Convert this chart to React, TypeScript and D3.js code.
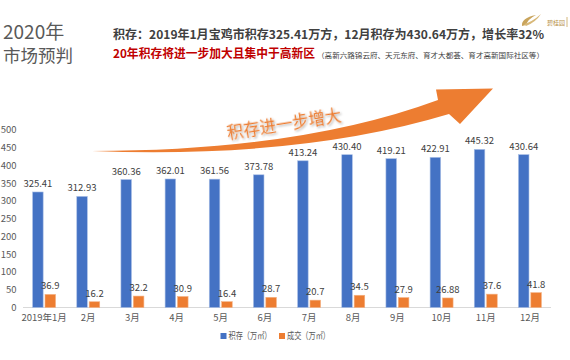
import { useRef, useEffect } from 'react';
import * as d3 from 'd3';

const months = ['2019年1月', '2月', '3月', '4月', '5月', '6月', '7月', '8月', '9月', '10月', '11月', '12月'];
const stockValues = [325.41, 312.93, 360.36, 362.01, 361.56, 373.78, 413.24, 430.40, 419.21, 422.91, 445.32, 430.64];
const dealValues = [36.9, 16.2, 32.2, 30.9, 16.4, 28.7, 20.7, 34.5, 27.9, 26.88, 37.6, 41.8];
const stockLabels = ['325.41', '312.93', '360.36', '362.01', '361.56', '373.78', '413.24', '430.40', '419.21', '422.91', '445.32', '430.64'];
const dealLabels = ['36.9', '16.2', '32.2', '30.9', '16.4', '28.7', '20.7', '34.5', '27.9', '26.88', '37.6', '41.8'];
const seriesNames = ['积存（万㎡）', '成交（万㎡）'];
const seriesColors = ['#4472C4', '#ED7D31'];
const yTicks = [0, 50, 100, 150, 200, 250, 300, 350, 400, 450, 500];

const FONT = '"Noto Sans CJK SC", "Noto Sans", sans-serif';

export default function App() {
  const svgRef = useRef<SVGSVGElement | null>(null);
  const width = 570;
  const height = 360;

  function renderChart() {
    const svg = d3.select(svgRef.current);
    svg.selectAll('*').remove();
    svg.attr('width', width).attr('height', height).style('font-family', FONT);

    const defs = svg.append('defs');
    const shadow = defs.append('filter').attr('id', 'txtShadow').attr('x', '-10%').attr('y', '-30%').attr('width', '130%').attr('height', '170%');
    shadow.append('feDropShadow').attr('dx', 1.2).attr('dy', 1.5).attr('stdDeviation', 0.9)
      .attr('flood-color', '#000').attr('flood-opacity', 0.35);

    // titles
    svg.append('text').text('2020年').attr('x', 3).attr('y', 38.5)
      .attr('font-size', 19).attr('fill', '#595959');
    svg.append('text').text('市场预判').attr('x', 3).attr('y', 62)
      .attr('font-size', 17.5).attr('fill', '#595959');

    svg.append('text').text('积存：2019年1月宝鸡市积存325.41万方，12月积存为430.64万方，增长率32%')
      .attr('x', 113).attr('y', 38.5).attr('font-size', 12).attr('font-weight', 'bold')
      .attr('fill', '#404040').attr('textLength', 431).attr('lengthAdjust', 'spacingAndGlyphs');
    svg.append('text').text('20年积存将进一步加大且集中于高新区')
      .attr('x', 113).attr('y', 58).attr('font-size', 12).attr('font-weight', 'bold')
      .attr('fill', '#C00000').attr('textLength', 202).attr('lengthAdjust', 'spacingAndGlyphs');
    svg.append('text').text('（高新六路锦云府、天元东府、育才大都荟、育才高新国际社区等）')
      .attr('x', 317).attr('y', 57.5).attr('font-size', 7).attr('fill', '#404040')
      .attr('textLength', 227).attr('lengthAdjust', 'spacingAndGlyphs');

    // logo
    const logo = svg.append('g');
    logo.append('path').attr('d', 'M522,26 Q521,18 536,15 Q528,19 526,25 Z').attr('fill', '#C9A45C');
    logo.append('path').attr('d', 'M524,24 Q532,22 541,14 Q536,22 526,26 Z').attr('fill', '#D8B878');
    logo.append('text').text('碧桂园').attr('x', 547).attr('y', 24.5).attr('font-size', 6)
      .attr('fill', '#B8924A');
    logo.append('line').attr('x1', 567).attr('x2', 567).attr('y1', 17).attr('y2', 27)
      .attr('stroke', '#C9A45C').attr('stroke-width', 0.8);

    // scales
    const x0 = d3.scaleBand().domain(months).range([22, 552]).paddingInner(0.48).paddingOuter(0.24);
    const x1 = d3.scaleBand().domain(['stock', 'deal']).range([0, x0.bandwidth()]).paddingInner(0.15);
    const y = d3.scaleLinear().domain([0, 500]).range([307.5, 130]);

    // y axis labels
    svg.append('g').selectAll('text').data(yTicks).join('text')
      .text((d) => d).attr('x', 16.5).attr('y', (d) => y(d) + 3.3)
      .attr('text-anchor', 'end').attr('font-size', 9.5).attr('fill', '#595959');

    // baseline
    svg.append('line').attr('x1', 23).attr('x2', 551).attr('y1', 307.5).attr('y2', 307.5)
      .attr('stroke', '#D9D9D9').attr('stroke-width', 1);

    const groups = svg.append('g').selectAll('g').data(months).join('g')
      .attr('transform', (d) => `translate(${x0(d)},0)`);

    groups.append('rect')
      .attr('x', x1('stock') as number).attr('width', x1.bandwidth())
      .attr('y', (d, i) => y(stockValues[i])).attr('height', (d, i) => y(0) - y(stockValues[i]))
      .attr('fill', seriesColors[0]).attr('stroke', '#A9BFE6').attr('stroke-width', 0.6);
    groups.append('rect')
      .attr('x', x1('deal') as number).attr('width', x1.bandwidth())
      .attr('y', (d, i) => y(dealValues[i])).attr('height', (d, i) => y(0) - y(dealValues[i]))
      .attr('fill', seriesColors[1]).attr('stroke', '#F4B183').attr('stroke-width', 0.6);

    groups.append('text').text((d, i) => stockLabels[i])
      .attr('x', (x1('stock') as number) + x1.bandwidth() / 2).attr('y', (d, i) => y(stockValues[i]) - 5)
      .attr('text-anchor', 'middle').attr('font-size', 9.5).attr('fill', '#404040');
    groups.append('text').text((d, i) => dealLabels[i])
      .attr('x', (x1('deal') as number) + x1.bandwidth() / 2).attr('y', (d, i) => y(dealValues[i]) - 5)
      .attr('text-anchor', 'middle').attr('font-size', 9.5).attr('fill', '#404040');

    // x labels
    groups.append('text').text((d) => d)
      .attr('x', x0.bandwidth() / 2).attr('y', 320.5)
      .attr('text-anchor', 'middle').attr('font-size', 9.5).attr('fill', '#595959');

    // legend
    const legendX = [220.5, 279];
    const legend = svg.append('g').selectAll('g').data(seriesNames).join('g')
      .attr('transform', (d, i) => `translate(${legendX[i]},336)`);
    legend.append('rect').attr('x', 0).attr('y', -3).attr('width', 6).attr('height', 6)
      .attr('fill', (d, i) => seriesColors[i]);
    legend.append('text').text((d) => d).attr('x', 8).attr('y', 3.3)
      .attr('font-size', 9.5).attr('fill', '#595959')
      .attr('textLength', 43).attr('lengthAdjust', 'spacingAndGlyphs');

    // big arrow
    svg.append('path')
      .attr('d', 'M92,151 Q300,151 438,100 L436,89.5 L493,88.5 L460,124 L449,114 Q300,159 92,151 Z')
      .attr('fill', '#ED7D31');

    svg.append('text').text('积存进一步增大')
      .attr('transform', 'translate(285,130) rotate(-9)')
      .attr('text-anchor', 'middle').attr('font-size', 16.5)
      .attr('fill', '#ED7D31').attr('filter', 'url(#txtShadow)');
  }

  useEffect(() => {
    renderChart();
  }, []);

  return (
    <div>
      <svg ref={svgRef} style={{ position: 'absolute', left: 0, top: 0 }} />
    </div>
  );
}
